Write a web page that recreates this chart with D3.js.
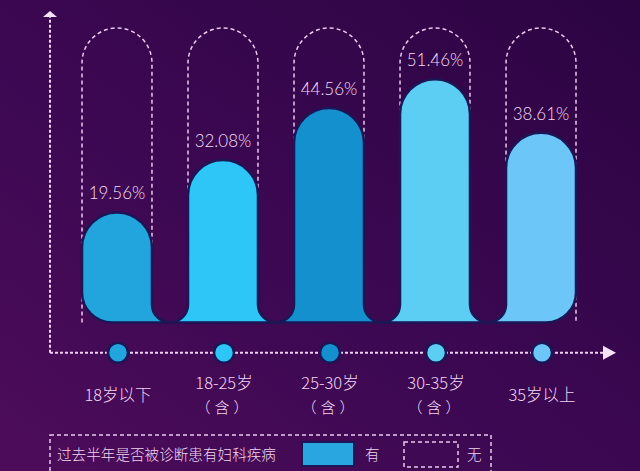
<!DOCTYPE html>
<html>
<head>
<meta charset="utf-8">
<script src="https://cdn.jsdelivr.net/npm/d3@7"></script>
<style>
  html, body { margin: 0; padding: 0; background: #36074d; }
  svg { display: block; }
</style>
</head>
<body>
<div id="graph"></div>
<script>
// data
var categories = ['18岁以下', '18-25岁（含）', '25-30岁（含）', '30-35岁（含）', '35岁以上'];
var labelLines = [['18岁以下'], ['18-25岁', '（含）'], ['25-30岁', '（含）'], ['30-35岁', '（含）'], ['35岁以上']];
var values = [19.56, 32.08, 44.56, 51.46, 38.61];
var barColors = ['#22a4dd', '#2ec6f6', '#1590cf', '#5ccdf3', '#6cc6f8'];
var legendTitle = '过去半年是否被诊断患有妇科疾病';
var legendLabels = ['有', '无'];

var width = 640, height = 471;
var baseY = 322.5, axisY = 352.7, axisX = 50;

var svg = d3.select('#graph')
  .append('svg')
  .attr('width', width)
  .attr('height', height);

// background
var defs = svg.append('defs');
var bg = defs.append('linearGradient')
  .attr('id', 'bg')
  .attr('x1', 0).attr('y1', 1).attr('x2', 1).attr('y2', 0);
bg.append('stop').attr('offset', 0).attr('stop-color', '#4d0c5a');
bg.append('stop').attr('offset', 0.45).attr('stop-color', '#3c0852');
bg.append('stop').attr('offset', 1).attr('stop-color', '#2c0442');
svg.append('rect').attr('width', width).attr('height', height).attr('fill', 'url(#bg)');

// scales
var x = d3.scaleBand()
  .domain(categories)
  .range([82, 576])
  .paddingInner(0.34)
  .paddingOuter(0);

var y = d3.scaleLinear()
  .domain([-6.8, 63.7])
  .range([baseY, 28]);

var w = x.bandwidth();
var r = w / 2;
var gap = (x.step() - w) / 2;
var R = 30;
var n = categories.length;

// dashed capsules (the "无" part)
svg.append('g')
  .selectAll('path')
  .data(categories)
  .enter()
  .append('path')
  .attr('d', function(d) {
    var x0 = x(d), x1 = x0 + w, t = y.range()[1];
    return 'M' + x0 + ',' + baseY + 'L' + x0 + ',' + (t + r) +
      'A' + r + ',' + r + ' 0 0 1 ' + x1 + ',' + (t + r) +
      'L' + x1 + ',' + baseY;
  })
  .attr('fill', 'none')
  .attr('stroke', '#e9c9ee')
  .attr('stroke-width', 1.5)
  .attr('stroke-dasharray', '4,3');

// bars: rounded top, fillets into a shared base
function barPath(d, i) {
  var x0 = x(categories[i]), x1 = x0 + w, t = y(d);
  var p = '';
  if (i === 0) {
    p += 'M' + (x0 + R) + ',' + baseY + 'A' + R + ',' + R + ' 0 0 1 ' + x0 + ',' + (baseY - R);
  } else {
    p += 'M' + (x0 - gap) + ',' + baseY + 'A' + gap + ',' + gap + ' 0 0 0 ' + x0 + ',' + (baseY - gap);
  }
  p += 'L' + x0 + ',' + (t + r);
  p += 'A' + r + ',' + r + ' 0 0 1 ' + x1 + ',' + (t + r);
  if (i === n - 1) {
    p += 'L' + x1 + ',' + (baseY - R) + 'A' + R + ',' + R + ' 0 0 1 ' + (x1 - R) + ',' + baseY;
  } else {
    p += 'L' + x1 + ',' + (baseY - gap) + 'A' + gap + ',' + gap + ' 0 0 0 ' + (x1 + gap) + ',' + baseY;
  }
  return p + 'Z';
}

svg.append('g')
  .selectAll('path')
  .data(values)
  .enter()
  .append('path')
  .attr('d', barPath)
  .attr('fill', function(d, i) { return barColors[i]; })
  .attr('stroke', '#1b1656')
  .attr('stroke-width', 2.5)
  .attr('stroke-linejoin', 'round');

// value labels
svg.append('g')
  .selectAll('text')
  .data(values)
  .enter()
  .append('text')
  .attr('x', function(d, i) { return x(categories[i]) + w / 2; })
  .attr('y', function(d) { return y(d) - 13; })
  .attr('text-anchor', 'middle')
  .attr('font-family', 'Lato, "Open Sans", sans-serif')
  .attr('font-weight', 300)
  .attr('font-size', 17)
  .attr('fill', '#f4dcf4')
  .text(function(d) { return d.toFixed(2) + '%'; });

// axes (dashed with arrows)
var axisColor = '#f0d0f0';
svg.append('line')
  .attr('x1', axisX).attr('y1', axisY).attr('x2', axisX).attr('y2', 16)
  .attr('stroke', axisColor).attr('stroke-width', 2).attr('stroke-dasharray', '3,2');
svg.append('line')
  .attr('x1', axisX).attr('y1', axisY).attr('x2', 604).attr('y2', axisY)
  .attr('stroke', axisColor).attr('stroke-width', 2).attr('stroke-dasharray', '3,2');
svg.append('path')
  .attr('d', 'M' + axisX + ',11L' + (axisX + 7) + ',17L' + (axisX - 7) + ',17Z')
  .attr('fill', '#f6e2f6');
svg.append('path')
  .attr('d', 'M616,' + axisY + 'L603,' + (axisY - 7) + 'L603,' + (axisY + 7) + 'Z')
  .attr('fill', '#f6e2f6');

// axis dots
svg.append('g')
  .selectAll('circle')
  .data(categories)
  .enter()
  .append('circle')
  .attr('cx', function(d) { return x(d) + w / 2 + 1; })
  .attr('cy', axisY)
  .attr('r', 10)
  .attr('fill', function(d, i) { return barColors[i]; })
  .attr('stroke', '#1b1656')
  .attr('stroke-width', 2.5);

// category labels
var cjk = '"Noto Sans CJK SC", "Noto Sans", sans-serif';
var lab = svg.append('g')
  .selectAll('text')
  .data(labelLines)
  .enter()
  .append('text')
  .attr('text-anchor', 'middle')
  .attr('font-family', cjk)
  .attr('font-weight', 300)
  .attr('fill', '#f0d4f0')
  .attr('transform', function(d, i) { return 'translate(' + (x(categories[i]) + w / 2 + 1) + ',0)'; });

lab.each(function(lines) {
  var t = d3.select(this);
  if (lines.length === 1) {
    t.append('tspan').attr('x', 0).attr('y', 395).attr('dy', '0.35em')
      .attr('font-size', 16.5).text(lines[0]);
  } else {
    t.append('tspan').attr('x', 0).attr('y', 383.5).attr('dy', '0.35em')
      .attr('font-size', 16.5).text(lines[0]);
    t.append('tspan').attr('x', 0).attr('y', 408).attr('dy', '0.35em')
      .attr('font-size', 15).attr('letter-spacing', 4).text(lines[1]);
  }
});

// legend
var legend = svg.append('g');
legend.append('rect')
  .attr('x', 50).attr('y', 435).attr('width', 441).attr('height', 60)
  .attr('fill', 'none').attr('stroke', '#e9c9ee').attr('stroke-width', 1.5)
  .attr('stroke-dasharray', '4,3');
legend.append('text')
  .attr('x', 57).attr('y', 455).attr('dy', '0.35em')
  .attr('font-family', cjk).attr('font-weight', 300).attr('font-size', 14.6)
  .attr('fill', '#f0d4f0')
  .text(legendTitle);
legend.append('rect')
  .attr('x', 302).attr('y', 442).attr('width', 52).attr('height', 24)
  .attr('fill', '#29a6df').attr('stroke', '#1b1656').attr('stroke-width', 2);
legend.append('text')
  .attr('x', 365).attr('y', 455).attr('dy', '0.35em')
  .attr('font-family', cjk).attr('font-weight', 300).attr('font-size', 14.6)
  .attr('fill', '#f0d4f0')
  .text(legendLabels[0]);
legend.append('rect')
  .attr('x', 404).attr('y', 442).attr('width', 54).attr('height', 25)
  .attr('fill', 'none').attr('stroke', '#e9c9ee').attr('stroke-width', 1.5)
  .attr('stroke-dasharray', '4,3');
legend.append('text')
  .attr('x', 467).attr('y', 455).attr('dy', '0.35em')
  .attr('font-family', cjk).attr('font-weight', 300).attr('font-size', 14.6)
  .attr('fill', '#f0d4f0')
  .text(legendLabels[1]);
</script>
</body>
</html>
